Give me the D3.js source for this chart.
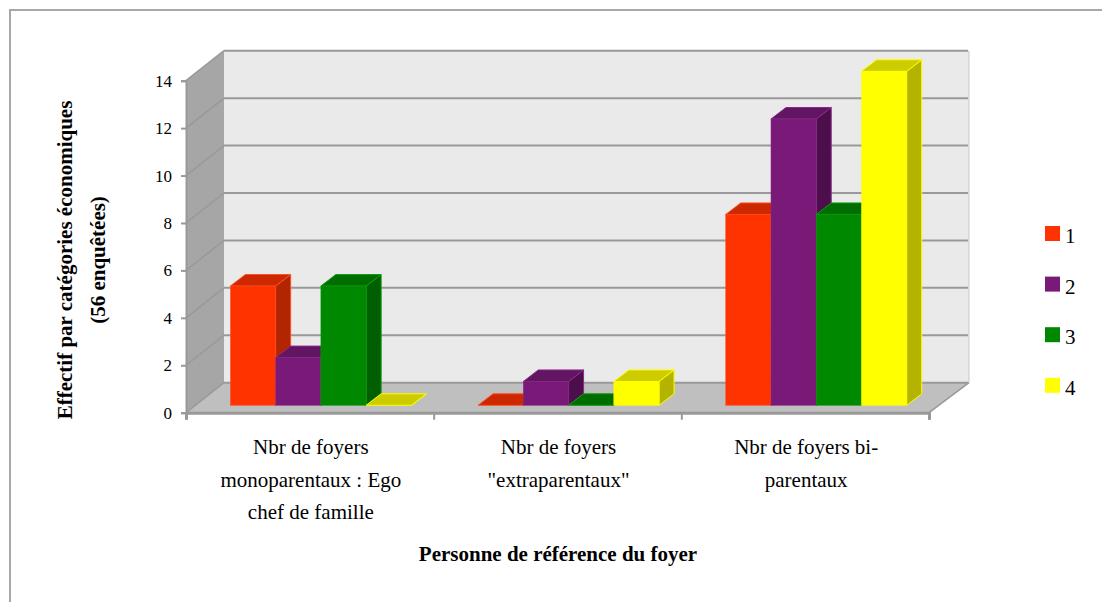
<!DOCTYPE html>
<html>
<head>
<meta charset="utf-8">
<script src="https://cdn.jsdelivr.net/npm/d3@7"></script>
<style>
  html, body { margin: 0; padding: 0; background: #fff; }
  svg { display: block; }
  text { font-family: "Liberation Serif", serif; fill: #000; }
</style>
</head>
<body>
<svg id="chart" width="1102" height="602"></svg>
<script>
/*************************Data********************* */
const categories = ["cat1", "cat2", "cat3"];
const categoryLines = [
  ["Nbr de foyers", "monoparentaux : Ego", "chef de famille"],
  ["Nbr de foyers", "\"extraparentaux\""],
  ["Nbr de foyers bi-", "parentaux"],
];
const series = ["1", "2", "3", "4"];
const values1 = [5, 0, 8];
const values2 = [2, 1, 12];
const values3 = [5, 0, 8];
const values4 = [0, 1, 14];
const allValues = [values1, values2, values3, values4];
const yTicks = [0, 2, 4, 6, 8, 10, 12, 14];
const yTitleLines = ["Effectif par catégories économiques", "(56 enquêtées)"];
const xTitle = "Personne de référence du foyer";

const front = ["#ff3300", "#7a1a78", "#008800", "#ffff00"];
const topFace = ["#cc2900", "#621562", "#006d00", "#cccc00"];
const sideFace = ["#b32400", "#4d0f4c", "#005f00", "#b3b300"];
const edge = ["#ff4d26", "#8a2a88", "#109a10", "#ffff00"];

/*************************Scales********************* */
const svg = d3.select("svg#chart");
const left = 186;
const right = 929;
const wallDx = 38;
const wallDy = -30;
const barDx = 15;
const barDy = -11.5;
const baseDx = 9.4;
const baseDy = -7.4;

const scaleY = d3.scaleLinear().domain([0, 14]).range([412.7, 80.7]);
const scaleX = d3.scaleBand().domain(categories).range([left, right]);
const scaleBar = d3.scaleBand().domain(series).range([35, 216]);
const scaleTick = d3.scaleLinear().domain([0, 3]).range([left, right]);
const scaleHeight = d3.scaleLinear().domain([0, 14]).range([0, 334]);

const pts = (arr) => arr.map((p) => p.join(",")).join(" ");

/*************************Frame and walls********************* */
svg.append("path").attr("d", "M10,602V10H1102").attr("fill", "none").attr("stroke", "#a8a8a8").attr("stroke-width", 2);

const y0 = scaleY(0);
const y14 = scaleY(14);
svg.append("polygon").attr("points", pts([[left + wallDx, y14 + wallDy], [right + wallDx + 2, y14 + wallDy], [right + wallDx + 2, y0 + wallDy], [left + wallDx, y0 + wallDy]])).attr("fill", "#eaeaea");
svg.append("polygon").attr("points", pts([[left, y14], [left + wallDx, y14 + wallDy], [left + wallDx, y0 + wallDy], [left, y0]])).attr("fill", "#a6a6a6");
svg.append("polygon").attr("points", pts([[left, y0], [left + wallDx, y0 + wallDy], [right + wallDx + 2, y0 + wallDy], [right, y0]])).attr("fill", "#bfbfbf");
svg.append("line").attr("x1", right + wallDx + 2).attr("x2", right + wallDx + 2).attr("y1", y14 + wallDy).attr("y2", y0 + wallDy).attr("stroke", "#c8c8c8");

// gridlines on back wall and side wall
const grid = svg.append("g").attr("class", "grid");
grid.selectAll("line.back").data(yTicks).join("line").attr("class", "back")
  .attr("x1", left + wallDx).attr("x2", right + wallDx + 1)
  .attr("y1", (d) => scaleY(d) + wallDy).attr("y2", (d) => scaleY(d) + wallDy)
  .attr("stroke", "#999").attr("stroke-width", 2);
grid.selectAll("line.side").data(yTicks).join("line").attr("class", "side")
  .attr("x1", left).attr("x2", left + wallDx)
  .attr("y1", (d) => scaleY(d)).attr("y2", (d) => scaleY(d) + wallDy)
  .attr("stroke", "#999").attr("stroke-width", 1.5);
svg.append("line").attr("x1", right).attr("x2", right + wallDx + 2).attr("y1", y0).attr("y2", y0 + wallDy).attr("stroke", "#999").attr("stroke-width", 1.5);

/*************************Axes********************* */
const yAxis = d3.axisLeft(scaleY).tickValues(yTicks).tickSize(5).tickPadding(9).tickFormat(d3.format("d"));
const axisY = svg.append("g").attr("class", "y-axis").attr("transform", `translate(${left},0)`).call(yAxis);
axisY.selectAll("text").attr("font-size", 17);
axisY.selectAll("line").attr("stroke", "#999").attr("stroke-width", 2);
axisY.select(".domain").attr("stroke", "#999").attr("stroke-width", 2);

const xAxis = d3.axisBottom(scaleTick).tickValues([0, 1, 2, 3]).tickSize(7).tickFormat("");
const axisX = svg.append("g").attr("class", "x-axis").attr("transform", `translate(0,${y0})`).call(xAxis);
axisX.selectAll("line").attr("stroke", "#999").attr("stroke-width", 2);
axisX.select(".domain").attr("stroke", "#999").attr("stroke-width", 3);

/*************************Bars********************* */
const bars = svg.append("g").attr("class", "bars");
categories.forEach((cat, c) => {
  series.forEach((s, i) => {
    const v = allValues[i][c];
    const x1 = scaleX(cat) + scaleBar(s) + baseDx;
    const x2 = x1 + scaleBar.bandwidth();
    const yb = y0 + baseDy;
    const yt = yb - scaleHeight(v);
    const b = bars.append("g");
    b.append("polygon")
      .attr("points", pts([[x2, yt], [x2 + barDx, yt + barDy], [x2 + barDx, yb + barDy], [x2, yb]]))
      .attr("fill", sideFace[i]).attr("stroke", edge[i]).attr("stroke-width", 1);
    b.append("polygon")
      .attr("points", pts([[x1, yt], [x1 + barDx, yt + barDy], [x2 + barDx, yt + barDy], [x2, yt]]))
      .attr("fill", topFace[i]).attr("stroke", edge[i]).attr("stroke-width", 1);
    if (v > 0) {
      b.append("rect").attr("x", x1).attr("y", yt).attr("width", x2 - x1).attr("height", yb - yt)
        .attr("fill", front[i]).attr("stroke", edge[i]).attr("stroke-width", 0.5);
    }
  });
});

/*************************Labels********************* */
const catLabels = svg.append("g").attr("class", "cat-labels");
categories.forEach((cat, c) => {
  categoryLines[c].forEach((line, j) => {
    catLabels.append("text").text(line)
      .attr("x", scaleX(cat) + scaleX.bandwidth() / 2 + 1)
      .attr("y", 454 + j * 32.5)
      .attr("text-anchor", "middle").attr("font-size", 21);
  });
});

svg.append("text").text(xTitle).attr("x", 558).attr("y", 561)
  .attr("text-anchor", "middle").attr("font-size", 21).attr("font-weight", "bold");

yTitleLines.forEach((line, j) => {
  svg.append("text").text(line)
    .attr("transform", `translate(${72 + j * 33},260) rotate(-90)`)
    .attr("text-anchor", "middle").attr("font-size", 21).attr("font-weight", "bold");
});

/*************************Legend********************* */
const legend = svg.append("g").attr("class", "legend")
  .selectAll("g").data(series).join("g")
  .attr("transform", (d, i) => `translate(1045,${226 + i * 50.6})`);
legend.append("rect").attr("width", 15).attr("height", 15).attr("fill", (d, i) => front[i]);
legend.append("text").text((d) => d).attr("x", 20).attr("y", 17).attr("font-size", 21);
</script>
</body>
</html>
